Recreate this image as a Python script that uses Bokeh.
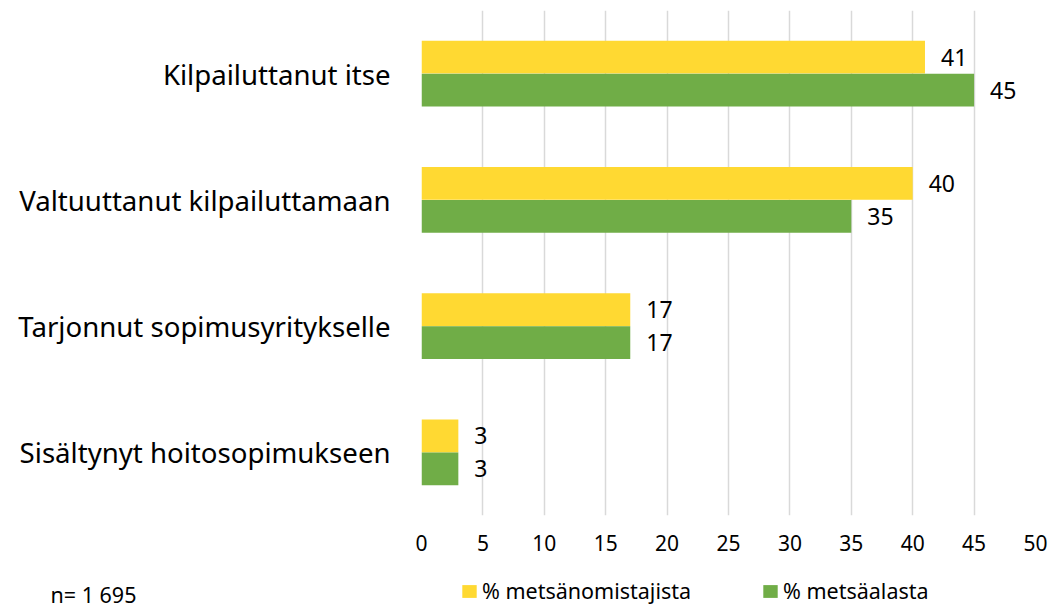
from bokeh.plotting import figure
from bokeh.models import ColumnDataSource, FactorRange, Range1d, Legend, LegendItem, Label, FixedTicker
from bokeh.core.properties import value
from bokeh.transform import dodge
from bokeh.embed import file_html
from bokeh.resources import INLINE

categories = ["Kilpailuttanut itse", "Valtuuttanut kilpailuttamaan",
              "Tarjonnut sopimusyritykselle", "Sisältynyt hoitosopimukseen"]
owners = [41, 40, 17, 3]
area = [45, 35, 17, 3]
series_names = ["% metsänomistajista", "% metsäalasta"]
x_ticks = list(range(0, 51, 5))
note = "n= 1 695"

YELLOW = "#FFD932"
GREEN = "#70AD47"
FONT = "Noto Sans"

cats_rev = categories[::-1]
p = figure(width=1051, height=560, y_range=FactorRange(*cats_rev, range_padding=0),
           x_range=Range1d(0, 50), output_backend="svg", toolbar_location=None,
           min_border_left=421, min_border_right=16, min_border_top=10, min_border_bottom=45)
p.outline_line_color = None
p.background_fill_color = "white"
p.border_fill_color = "white"

src1 = ColumnDataSource(dict(y=categories, v=owners, t=[str(v) for v in owners]))
src2 = ColumnDataSource(dict(y=categories, v=area, t=[str(v) for v in area]))

p.hbar(y=dodge("y", 0.13, range=p.y_range), right="v", left=0, height=0.26, source=src1,
       fill_color=YELLOW, line_color=None)
p.hbar(y=dodge("y", -0.13, range=p.y_range), right="v", left=0, height=0.26, source=src2,
       fill_color=GREEN, line_color=None)

for src, off in ((src1, 0.13), (src2, -0.13)):
    p.text(x="v", y=dodge("y", off, range=p.y_range), text="t", source=src, x_offset=16,
           text_font=value(FONT), text_font_size="23px", text_baseline="middle",
           text_align="left", text_color="#000000")

p.xaxis.ticker = FixedTicker(ticks=x_ticks)
p.xaxis.axis_line_color = None
p.xaxis.major_tick_line_color = None
p.xaxis.major_tick_out = 0
p.xaxis.minor_tick_line_color = None
p.xaxis.major_label_text_font = FONT
p.xaxis.major_label_text_font_size = "21px"
p.xaxis.major_label_text_color = "#000000"
p.xaxis.major_label_standoff = 19

p.yaxis.axis_line_color = None
p.yaxis.major_tick_line_color = None
p.yaxis.major_tick_out = 0
p.yaxis.minor_tick_line_color = None
p.yaxis.major_label_text_font = FONT
p.yaxis.major_label_text_font_size = "27.6px"
p.yaxis.major_label_text_color = "#000000"
p.yaxis.major_label_standoff = 31

p.xgrid.grid_line_color = "#D9D9D9"
p.xgrid.grid_line_width = 1.5
p.ygrid.grid_line_color = None

# footer: legend and sample-size note (separate root so its frame spans the full width)
f = figure(width=1051, height=48, x_range=Range1d(0, 1051), y_range=Range1d(0, 48),
           output_backend="svg", toolbar_location=None, min_border=0,
           min_border_left=0, min_border_right=0, min_border_top=0, min_border_bottom=0)
f.axis.visible = False
f.grid.visible = False
f.outline_line_color = None
f.border_fill_color = "white"
# legend proxies (one off-screen row each, so the legend can draw its swatch)
proxy = ColumnDataSource(dict(y=[-100], r=[0]))
l1 = f.hbar(y="y", right="r", left=0, height=1, source=proxy, fill_color=YELLOW, line_color=None)
l2 = f.hbar(y="y", right="r", left=0, height=1, source=proxy, fill_color=GREEN, line_color=None)
for rend, name, loc in ((l1, series_names[0], (460, 3)), (l2, series_names[1], (761, 3))):
    f.add_layout(Legend(items=[LegendItem(label=name, renderers=[rend])], location=loc,
                        border_line_color=None, background_fill_alpha=0,
                        label_text_font=FONT, label_text_font_size="21.5px",
                        label_text_color="#000000", label_text_baseline="middle",
                        glyph_width=18, glyph_height=16, label_height=26,
                        label_standoff=4, padding=0, margin=0), "center")
f.add_layout(Label(x=50, y=14, x_units="screen", y_units="screen", text=note,
                   text_baseline="middle", text_font=FONT, text_font_size="21.5px",
                   text_color="#000000"))

open("out.html", "w").write(file_html([p, f], INLINE))
